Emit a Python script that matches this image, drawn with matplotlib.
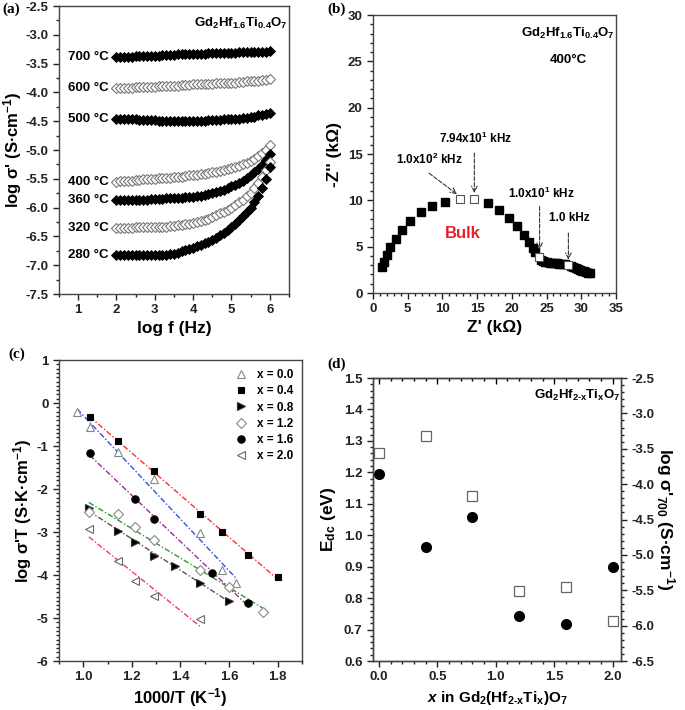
import numpy as np
import matplotlib.pyplot as plt
from matplotlib.ticker import MultipleLocator, FormatStrFormatter

plt.rcParams['font.family'] = ['Liberation Sans', 'DejaVu Sans']
plt.rcParams['font.weight'] = 'bold'
plt.rcParams['axes.labelweight'] = 'bold'
plt.rcParams['axes.unicode_minus'] = False
plt.rcParams['mathtext.fontset'] = 'custom'
plt.rcParams['mathtext.default'] = 'bf'
plt.rcParams['mathtext.bf'] = 'Liberation Sans:bold'
plt.rcParams['mathtext.rm'] = 'Liberation Sans:bold'
plt.rcParams['mathtext.it'] = 'Liberation Sans:italic:bold'

# (a) log sigma' vs log f, Gd2Hf1.6Ti0.4O7
log_f = [2.0, 2.1, 2.2, 2.3, 2.4, 2.5, 2.6, 2.7, 2.8, 2.9,
         3.0, 3.1, 3.2, 3.3, 3.4, 3.5, 3.6, 3.7, 3.8, 3.9,
         4.0, 4.1, 4.2, 4.3, 4.4, 4.5, 4.6, 4.7, 4.8, 4.9,
         5.0, 5.1, 5.2, 5.3, 5.4, 5.5, 5.6, 5.7, 5.8, 5.9, 6.0]
sig_700 = [-3.39, -3.39, -3.38, -3.38, -3.38, -3.37, -3.37, -3.37, -3.37, -3.36,
           -3.36, -3.36, -3.35, -3.35, -3.35, -3.35, -3.34, -3.34, -3.34, -3.34,
           -3.33, -3.33, -3.33, -3.33, -3.32, -3.32, -3.32, -3.32, -3.31, -3.31,
           -3.31, -3.31, -3.30, -3.30, -3.30, -3.30, -3.29, -3.29, -3.29, -3.29, -3.28]
sig_600 = [-3.93, -3.93, -3.92, -3.92, -3.92, -3.91, -3.91, -3.91, -3.90, -3.90,
           -3.90, -3.89, -3.89, -3.89, -3.88, -3.88, -3.88, -3.87, -3.87, -3.87,
           -3.86, -3.86, -3.86, -3.85, -3.85, -3.85, -3.84, -3.84, -3.84, -3.83,
           -3.83, -3.83, -3.82, -3.82, -3.81, -3.81, -3.80, -3.80, -3.79, -3.78, -3.77]
sig_500 = [-4.46, -4.46, -4.47, -4.47, -4.47, -4.47, -4.48, -4.48, -4.48, -4.48,
           -4.48, -4.49, -4.49, -4.49, -4.49, -4.49, -4.49, -4.49, -4.49, -4.49,
           -4.49, -4.49, -4.49, -4.49, -4.48, -4.48, -4.48, -4.48, -4.47, -4.47,
           -4.47, -4.46, -4.46, -4.45, -4.44, -4.43, -4.42, -4.40, -4.39, -4.37, -4.35]
sig_400 = [-5.55, -5.54, -5.54, -5.53, -5.53, -5.52, -5.52, -5.51, -5.51, -5.50,
           -5.50, -5.49, -5.49, -5.48, -5.48, -5.47, -5.46, -5.46, -5.45, -5.44,
           -5.43, -5.43, -5.42, -5.41, -5.40, -5.39, -5.38, -5.36, -5.35, -5.33,
           -5.31, -5.29, -5.27, -5.25, -5.22, -5.19, -5.15, -5.11, -5.06, -5.00, -4.92]
sig_360 = [-5.87, -5.87, -5.87, -5.87, -5.86, -5.86, -5.86, -5.86, -5.86, -5.85,
           -5.85, -5.85, -5.85, -5.84, -5.84, -5.84, -5.83, -5.83, -5.82, -5.82,
           -5.81, -5.80, -5.79, -5.78, -5.77, -5.75, -5.73, -5.71, -5.69, -5.66,
           -5.63, -5.60, -5.57, -5.53, -5.49, -5.44, -5.39, -5.33, -5.26, -5.18, -5.07]
sig_320 = [-6.35, -6.35, -6.35, -6.35, -6.35, -6.34, -6.34, -6.34, -6.34, -6.34,
           -6.34, -6.33, -6.33, -6.33, -6.32, -6.32, -6.31, -6.30, -6.29, -6.28,
           -6.26, -6.25, -6.23, -6.21, -6.19, -6.16, -6.13, -6.10, -6.07, -6.04,
           -6.00, -5.96, -5.91, -5.86, -5.80, -5.74, -5.66, -5.57, -5.47, -5.35, -5.20]
sig_280 = [-6.82, -6.82, -6.83, -6.83, -6.83, -6.83, -6.83, -6.83, -6.83, -6.83,
           -6.83, -6.83, -6.83, -6.82, -6.81, -6.80, -6.78, -6.76, -6.74, -6.72,
           -6.70, -6.67, -6.65, -6.62, -6.59, -6.56, -6.52, -6.48, -6.44, -6.39,
           -6.34, -6.28, -6.22, -6.15, -6.08, -6.00, -5.90, -5.79, -5.66, -5.50, -5.30]
temp_labels = ['700 °C', '600 °C', '500 °C', '400 °C', '360 °C', '320 °C', '280 °C']
temp_series = [sig_700, sig_600, sig_500, sig_400, sig_360, sig_320, sig_280]
temp_filled = [True, False, True, False, True, False, True]

# (b) Nyquist plot at 400 C
z_re = [1.25, 1.6, 2.0, 2.5, 3.25, 4.2, 5.35, 6.85, 8.55, 10.4,
        16.55, 18.2, 19.65, 20.8, 21.8, 22.45, 23.0, 23.35,
        24.2, 24.5, 24.8, 25.1, 25.45, 25.8, 26.15, 26.5, 26.85, 27.2, 27.6,
        28.5, 28.85, 29.2, 29.55, 29.85, 30.15, 30.45, 30.75, 31.0, 31.2]
z_im = [2.8, 3.4, 4.13, 5.0, 5.86, 6.79, 7.8, 8.69, 9.38, 9.84,
        9.74, 8.95, 8.08, 7.19, 6.25, 5.46, 4.85, 4.38,
        3.55, 3.42, 3.35, 3.3, 3.26, 3.23, 3.21, 3.19, 3.17, 3.14, 3.1,
        2.9, 2.82, 2.72, 2.62, 2.52, 2.42, 2.33, 2.26, 2.21, 2.19]
z_re_marked = [12.6, 14.6, 23.85, 28.1]
z_im_marked = [10.13, 10.13, 3.84, 2.98]

# (c) Arrhenius plots
inv_T = {
    '0.0': [0.975, 1.027, 1.143, 1.291, 1.481, 1.573, 1.628],
    '0.4': [1.027, 1.143, 1.291, 1.481, 1.573, 1.679, 1.80],
    '0.8': [1.023, 1.143, 1.214, 1.291, 1.379, 1.481, 1.601],
    '1.2': [1.023, 1.143, 1.214, 1.291, 1.481, 1.601, 1.738],
    '1.6': [1.027, 1.214, 1.291, 1.528, 1.679],
    '2.0': [1.023, 1.143, 1.214, 1.291, 1.481],
}
log_sT = {
    '0.0': [-0.22, -0.55, -1.14, -1.76, -3.03, -3.88, -4.19],
    '0.4': [-0.32, -0.88, -1.57, -2.58, -3.01, -3.53, -4.05],
    '0.8': [-2.45, -2.98, -3.24, -3.56, -3.78, -4.18, -4.60],
    '1.2': [-2.53, -2.57, -2.89, -3.19, -3.88, -4.27, -4.85],
    '1.6': [-1.17, -2.23, -2.69, -3.96, -4.66],
    '2.0': [-2.94, -3.67, -4.15, -4.49, -5.03],
}

# (d) activation energy and 700 C conductivity vs x
x_comp = [0.0, 0.4, 0.8, 1.2, 1.6, 2.0]
E_dc = [1.195, 0.963, 1.057, 0.742, 0.717, 0.900]
log_sig700 = [-3.56, -3.32, -4.17, -5.51, -5.45, -5.94]


def style(ax):
    ax.tick_params(which='both', direction='out', labelsize=9.5, width=1, colors='#222')
    ax.tick_params(which='major', length=4)
    ax.tick_params(which='minor', length=2)
    for s in ax.spines.values():
        s.set_linewidth(1)
        s.set_color('#444')


fig = plt.figure(figsize=(6.85, 7.1), dpi=100)

# ---- (a)
ax = fig.add_axes([0.0861, 0.5859, 0.3358, 0.4056])
for lab, vals, filled in zip(temp_labels, temp_series, temp_filled):
    if filled:
        ax.plot(log_f, vals, 'D', ms=5, mfc='black', mec='black', mew=0.6)
    else:
        ax.plot(log_f, vals, 'D', ms=5, mfc='white', mec='#777', mew=0.8)
    ax.text(1.8, vals[0], lab, ha='right', va='center', fontsize=9.5)
ax.text(5.25, -2.8, 'Gd$_2$Hf$_{1.6}$Ti$_{0.4}$O$_7$', ha='center', va='center', fontsize=9.5)
ax.set_xlim(0.5, 6.5)
ax.set_ylim(-7.5, -2.5)
ax.xaxis.set_major_locator(MultipleLocator(1))
ax.xaxis.set_minor_locator(MultipleLocator(0.5))
ax.yaxis.set_major_locator(MultipleLocator(0.5))
ax.yaxis.set_minor_locator(MultipleLocator(0.25))
ax.yaxis.set_major_formatter(FormatStrFormatter('%.1f'))
ax.set_xlabel('log f (Hz)', fontsize=12.5, labelpad=3)
ax.set_ylabel("log σ' (S·cm$^{-1}$)", fontsize=12, labelpad=1)
style(ax)

# ---- (b)
ax = fig.add_axes([0.5445, 0.5873, 0.3547, 0.3915])
ax.plot(z_re, z_im, 's', ms=5.5, color='black')
ax.plot(z_re_marked, z_im_marked, 's', ms=5.5, mfc='white', mec='#555', mew=0.8)
arrow = dict(arrowstyle='->', linestyle='--', color='#333', lw=0.8, shrinkA=0, shrinkB=0)
ax.annotate('', xy=(14.6, 10.8), xytext=(14.6, 15.1), arrowprops=arrow)
ax.annotate('', xy=(12.1, 10.67), xytext=(8.08, 12.93), arrowprops=arrow)
ax.annotate('', xy=(24.0, 4.67), xytext=(24.0, 9.34), arrowprops=arrow)
ax.annotate('', xy=(28.15, 3.59), xytext=(28.15, 6.47), arrowprops=arrow)
ax.text(14.8, 16.7, '7.94x10$^1$ kHz', ha='center', va='center', fontsize=8.5)
ax.text(8.1, 14.37, '1.0x10$^2$ kHz', ha='center', va='center', fontsize=8.5)
ax.text(24.3, 10.78, '1.0x10$^1$ kHz', ha='center', va='center', fontsize=8.5)
ax.text(28.3, 8.08, '1.0 kHz', ha='center', va='center', fontsize=8.5)
ax.text(13.0, 6.47, 'Bulk', ha='center', va='center', fontsize=12, color='#e8202a')
ax.text(28.1, 28.0, 'Gd$_2$Hf$_{1.6}$Ti$_{0.4}$O$_7$', ha='center', va='center', fontsize=9.5)
ax.text(28.1, 25.15, '400°C', ha='center', va='center', fontsize=9.5)
ax.set_xlim(0, 35)
ax.set_ylim(0, 30)
ax.xaxis.set_major_locator(MultipleLocator(5))
ax.xaxis.set_minor_locator(MultipleLocator(1))
ax.yaxis.set_major_locator(MultipleLocator(5))
ax.yaxis.set_minor_locator(MultipleLocator(1))
ax.set_xlabel("Z' (kΩ)", fontsize=12.5, labelpad=3)
ax.set_ylabel("-Z'' (kΩ)", fontsize=12.5)
style(ax)

# ---- (c)
ax = fig.add_axes([0.0861, 0.0690, 0.3547, 0.4239])
fit_colors = {'0.0': '#3050e8', '0.4': '#ff3030', '0.8': '#555555',
              '1.2': '#2e9a2e', '1.6': '#9a2a9a', '2.0': '#ff3366'}
marker_style = {
    '0.0': dict(marker='^', mfc='white', mec='#888', ms=6),
    '0.4': dict(marker='s', mfc='black', mec='black', ms=4.8),
    '0.8': dict(marker='>', mfc='black', mec='#333', ms=5.5),
    '1.2': dict(marker='D', mfc='white', mec='#888', ms=4.8),
    '1.6': dict(marker='o', mfc='black', mec='black', ms=5.3),
    '2.0': dict(marker='<', mfc='white', mec='#667', ms=6),
}
for key in inv_T:
    xs = np.array(inv_T[key])
    k, b = np.polyfit(xs, log_sT[key], 1)
    xl = np.array([xs.min(), xs.max()])
    ax.plot(xl, k * xl + b, color=fit_colors[key], lw=1, linestyle=(0, (4, 1.5, 1, 1.5)))
for key in inv_T:
    st = dict(mew=0.8)
    st.update(marker_style[key])
    ax.plot(inv_T[key], log_sT[key], linestyle='none', label='x = ' + key, **st)
ax.legend(loc='upper left', bbox_to_anchor=(0.70, 0.985), frameon=False, fontsize=8.5,
          handlelength=1.2, handletextpad=0.8, labelspacing=0.35, borderaxespad=0)
ax.set_xlim(0.9, 1.9)
ax.set_ylim(-6, 1)
ax.xaxis.set_major_locator(MultipleLocator(0.2))
ax.xaxis.set_minor_locator(MultipleLocator(0.1))
ax.xaxis.set_major_formatter(FormatStrFormatter('%.1f'))
ax.yaxis.set_major_locator(MultipleLocator(1))
ax.yaxis.set_minor_locator(MultipleLocator(0.1))
ax.set_xlabel('1000/T (K$^{-1}$)', fontsize=12, labelpad=2)
ax.set_ylabel("log σ'T (S·K·cm$^{-1}$)", fontsize=12, labelpad=2)
style(ax)

# ---- (d)
ax = fig.add_axes([0.5445, 0.0690, 0.3620, 0.3986])
ax.plot(x_comp, E_dc, 'o', ms=7, color='black')
ax2 = ax.twinx()
ax2.plot(x_comp, log_sig700, 's', ms=7, mfc='white', mec='#666', mew=0.9)
ax.set_xlim(-0.05, 2.07)
ax.set_ylim(0.6, 1.5)
ax2.set_ylim(-6.5, -2.5)
ax.xaxis.set_major_locator(MultipleLocator(0.5))
ax.xaxis.set_minor_locator(MultipleLocator(0.1))
ax.xaxis.set_major_formatter(FormatStrFormatter('%.1f'))
ax.yaxis.set_major_locator(MultipleLocator(0.1))
ax.yaxis.set_minor_locator(MultipleLocator(0.02))
ax.yaxis.set_major_formatter(FormatStrFormatter('%.1f'))
ax2.yaxis.set_major_locator(MultipleLocator(0.5))
ax2.yaxis.set_minor_locator(MultipleLocator(0.1))
ax2.yaxis.set_major_formatter(FormatStrFormatter('%.1f'))
ax.text(1.7, 1.445, 'Gd$_2$Hf$_{2\\text{-}x}$Ti$_x$O$_7$', ha='center', va='center', fontsize=9.5)
ax.set_xlabel('$\\mathit{x}$ in Gd$_2$(Hf$_{2\\text{-}x}$Ti$_x$)O$_7$', fontsize=11, labelpad=4)
ax.set_ylabel('E$_{dc}$ (eV)', fontsize=12.5)
ax2.set_ylabel("log σ'$_{700}$ (S·cm$^{-1}$)", fontsize=12.5, rotation=270, labelpad=16)
style(ax)
style(ax2)
top = ax.secondary_xaxis('top')
top.xaxis.set_major_locator(MultipleLocator(0.5))
top.xaxis.set_minor_locator(MultipleLocator(0.1))
top.tick_params(which='both', direction='in', labeltop=False, width=1)
top.tick_params(which='major', length=4)
top.tick_params(which='minor', length=2)

# panel letters
for lab, x, y in [('(a)', 0.003, 0.997), ('(b)', 0.478, 0.997), ('(c)', 0.012, 0.51), ('(d)', 0.478, 0.497)]:
    fig.text(x, y, lab, family='Liberation Serif', weight='bold', fontsize=11, va='top')

fig.savefig('out.png', dpi=100)
